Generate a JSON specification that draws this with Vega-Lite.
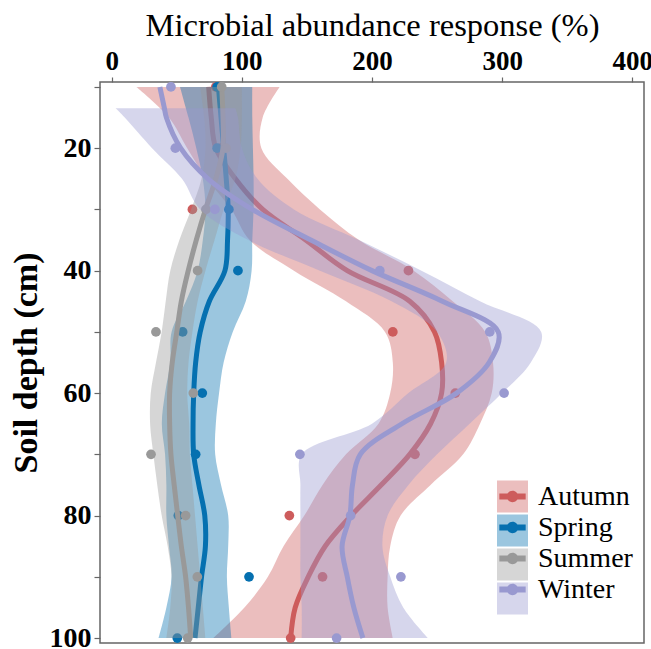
{
"$schema": "https://vega.github.io/schema/vega-lite/v6.json",
"width": 544, "height": 561,
"autosize": {"type": "none"},
"padding": {"left": 100, "top": 82, "right": 7, "bottom": 6},
"background": "white",
"config": {
 "view": {"stroke": "#666666", "strokeWidth": 1.5},
 "axis": {"labelFont": "Liberation Serif", "titleFont": "Liberation Serif", "labelColor": "black", "titleColor": "black", "grid": false, "domain": false, "tickColor": "#666666", "tickWidth": 1.2},
 "axisX": {"labelFontSize": 27, "labelFontWeight": "bold", "titleFontSize": 32.5, "titleFontWeight": "normal", "tickSize": 5, "labelPadding": 2, "titlePadding": 5},
 "axisY": {"labelFontSize": 28, "labelFontWeight": "bold", "titleFontSize": 34, "titleFontWeight": "bold", "tickSize": 6, "labelPadding": 3, "titlePadding": 6}
},
"datasets": {
 "pts": [
  {"season":"Autumn","depth":10,"value":80},{"season":"Autumn","depth":20,"value":84},{"season":"Autumn","depth":30,"value":62},{"season":"Autumn","depth":40,"value":228},{"season":"Autumn","depth":50,"value":216},{"season":"Autumn","depth":60,"value":264},{"season":"Autumn","depth":70,"value":233},{"season":"Autumn","depth":80,"value":136.5},{"season":"Autumn","depth":90,"value":162},{"season":"Autumn","depth":100,"value":137.5},
  {"season":"Spring","depth":10,"value":81},{"season":"Spring","depth":20,"value":81},{"season":"Spring","depth":30,"value":90},{"season":"Spring","depth":40,"value":97},{"season":"Spring","depth":50,"value":54.5},{"season":"Spring","depth":60,"value":69.6},{"season":"Spring","depth":70,"value":64.5},{"season":"Spring","depth":80,"value":51.2},{"season":"Spring","depth":90,"value":105.5},{"season":"Spring","depth":100,"value":50.4},
  {"season":"Summer","depth":10,"value":84.5},{"season":"Summer","depth":20,"value":87.8},{"season":"Summer","depth":30,"value":72.4},{"season":"Summer","depth":40,"value":66},{"season":"Summer","depth":50,"value":34},{"season":"Summer","depth":60,"value":62.7},{"season":"Summer","depth":70,"value":30.2},{"season":"Summer","depth":80,"value":56.8},{"season":"Summer","depth":90,"value":65.8},{"season":"Summer","depth":100,"value":58.4},
  {"season":"Winter","depth":10,"value":45.5},{"season":"Winter","depth":20,"value":48.9},{"season":"Winter","depth":30,"value":79.3},{"season":"Winter","depth":40,"value":206},{"season":"Winter","depth":50,"value":290.5},{"season":"Winter","depth":60,"value":301.5},{"season":"Winter","depth":70,"value":144.6},{"season":"Winter","depth":80,"value":183.6},{"season":"Winter","depth":90,"value":222.2},{"season":"Winter","depth":100,"value":172.8}
 ],
 "fits": [
  {"season":"Autumn","depth":10,"fit":74.5,"lo":19,"hi":129},
  {"season":"Autumn","depth":15,"fit":76.5,"lo":44,"hi":116},
  {"season":"Autumn","depth":20,"fit":80,"lo":58,"hi":115},
  {"season":"Autumn","depth":25,"fit":95,"lo":73,"hi":135},
  {"season":"Autumn","depth":30,"fit":116,"lo":92,"hi":160},
  {"season":"Autumn","depth":35,"fit":149,"lo":106,"hi":190},
  {"season":"Autumn","depth":40,"fit":181,"lo":140,"hi":232},
  {"season":"Autumn","depth":45,"fit":229,"lo":180,"hi":262},
  {"season":"Autumn","depth":50,"fit":248,"lo":210,"hi":287},
  {"season":"Autumn","depth":55,"fit":253.5,"lo":216,"hi":293},
  {"season":"Autumn","depth":60,"fit":253.5,"lo":214,"hi":292},
  {"season":"Autumn","depth":65,"fit":245,"lo":205,"hi":283},
  {"season":"Autumn","depth":70,"fit":229,"lo":180,"hi":270},
  {"season":"Autumn","depth":75,"fit":207,"lo":162,"hi":245},
  {"season":"Autumn","depth":80,"fit":184,"lo":148,"hi":222},
  {"season":"Autumn","depth":85,"fit":164,"lo":132,"hi":214},
  {"season":"Autumn","depth":90,"fit":151,"lo":120,"hi":212},
  {"season":"Autumn","depth":95,"fit":141,"lo":102,"hi":212},
  {"season":"Autumn","depth":100,"fit":137.5,"lo":78,"hi":216},
  {"season":"Spring","depth":10,"fit":82,"lo":52.5,"hi":108},
  {"season":"Spring","depth":15,"fit":84,"lo":59,"hi":108},
  {"season":"Spring","depth":20,"fit":86,"lo":65,"hi":108.5},
  {"season":"Spring","depth":25,"fit":88,"lo":70,"hi":109},
  {"season":"Spring","depth":30,"fit":89.5,"lo":72,"hi":109},
  {"season":"Spring","depth":35,"fit":89,"lo":70,"hi":108},
  {"season":"Spring","depth":40,"fit":87,"lo":66,"hi":107.5},
  {"season":"Spring","depth":45,"fit":75,"lo":57,"hi":103},
  {"season":"Spring","depth":50,"fit":68,"lo":46,"hi":93},
  {"season":"Spring","depth":55,"fit":64.5,"lo":45,"hi":86},
  {"season":"Spring","depth":60,"fit":63,"lo":41,"hi":82.5},
  {"season":"Spring","depth":65,"fit":62.5,"lo":38.5,"hi":80},
  {"season":"Spring","depth":70,"fit":63,"lo":41,"hi":79.5},
  {"season":"Spring","depth":75,"fit":67,"lo":42,"hi":84},
  {"season":"Spring","depth":80,"fit":71.5,"lo":42,"hi":89.5},
  {"season":"Spring","depth":85,"fit":72,"lo":44,"hi":89.5},
  {"season":"Spring","depth":90,"fit":69,"lo":46,"hi":88.5},
  {"season":"Spring","depth":95,"fit":66.5,"lo":42,"hi":90},
  {"season":"Spring","depth":100,"fit":64,"lo":36,"hi":92},
  {"season":"Summer","depth":10,"fit":84.5,"lo":68,"hi":100},
  {"season":"Summer","depth":15,"fit":85.5,"lo":71,"hi":100},
  {"season":"Summer","depth":20,"fit":85.5,"lo":72,"hi":99},
  {"season":"Summer","depth":25,"fit":80,"lo":69,"hi":95},
  {"season":"Summer","depth":30,"fit":72,"lo":61,"hi":86},
  {"season":"Summer","depth":35,"fit":65,"lo":52,"hi":79},
  {"season":"Summer","depth":40,"fit":58.8,"lo":45,"hi":72},
  {"season":"Summer","depth":45,"fit":53.5,"lo":41.5,"hi":66},
  {"season":"Summer","depth":50,"fit":50,"lo":38.4,"hi":62},
  {"season":"Summer","depth":55,"fit":46.5,"lo":34,"hi":59},
  {"season":"Summer","depth":60,"fit":44.5,"lo":30,"hi":58},
  {"season":"Summer","depth":65,"fit":44.5,"lo":29.5,"hi":59.5},
  {"season":"Summer","depth":70,"fit":45.5,"lo":32,"hi":60},
  {"season":"Summer","depth":75,"fit":48,"lo":35,"hi":62},
  {"season":"Summer","depth":80,"fit":50.7,"lo":38.4,"hi":64},
  {"season":"Summer","depth":85,"fit":53.5,"lo":43,"hi":66},
  {"season":"Summer","depth":90,"fit":56.8,"lo":46,"hi":68},
  {"season":"Summer","depth":95,"fit":59,"lo":45,"hi":70},
  {"season":"Summer","depth":100,"fit":60.7,"lo":42,"hi":72},
  {"season":"Winter","depth":10,"fit":37,"lo":null,"hi":null},
  {"season":"Winter","depth":13.5,"fit":40.5,"lo":3,"hi":95},
  {"season":"Winter","depth":15,"fit":42,"lo":10,"hi":97},
  {"season":"Winter","depth":20,"fit":53,"lo":31,"hi":100},
  {"season":"Winter","depth":25,"fit":74,"lo":54,"hi":112},
  {"season":"Winter","depth":30,"fit":108,"lo":68,"hi":140},
  {"season":"Winter","depth":35,"fit":153,"lo":105,"hi":190},
  {"season":"Winter","depth":40,"fit":200,"lo":160,"hi":238},
  {"season":"Winter","depth":45,"fit":254,"lo":215,"hi":283},
  {"season":"Winter","depth":50,"fit":297,"lo":250,"hi":330},
  {"season":"Winter","depth":55,"fit":290,"lo":257,"hi":322},
  {"season":"Winter","depth":60,"fit":265,"lo":228,"hi":300},
  {"season":"Winter","depth":65,"fit":223,"lo":200,"hi":275},
  {"season":"Winter","depth":70,"fit":191,"lo":146,"hi":250},
  {"season":"Winter","depth":75,"fit":185,"lo":145,"hi":228},
  {"season":"Winter","depth":80,"fit":183,"lo":145,"hi":212},
  {"season":"Winter","depth":85,"fit":177,"lo":145,"hi":208},
  {"season":"Winter","depth":90,"fit":181,"lo":145,"hi":214},
  {"season":"Winter","depth":95,"fit":186,"lo":146,"hi":224},
  {"season":"Winter","depth":100,"fit":193,"lo":146,"hi":243}
 ]
},
"encoding": {
 "y": {"field": "depth", "type": "quantitative", "scale": {"domain": [9.2, 100.8], "reverse": true, "nice": false, "zero": false},
  "axis": {"title": "Soil depth (cm)", "values": [10,20,30,40,50,60,70,80,90,100], "labelExpr": "datum.value % 20 == 0 ? datum.label : ''"}}
},
"layer": [
 {"data": {"name": "fits"}, "transform": [{"filter": "datum.season == 'Autumn'"}],
  "mark": {"type": "area", "orient": "horizontal", "interpolate": "catmull-rom", "opacity": 0.4},
  "encoding": {
   "x": {"field": "lo", "type": "quantitative", "scale": {"domain": [-9, 409], "nice": false, "zero": false}, "axis": {"orient": "top", "title": "Microbial abundance response (%)", "values": [0,100,200,300,400]}},
   "x2": {"field": "hi"},
   "fill": {"field": "season", "type": "nominal", "scale": {"domain": ["Autumn","Spring","Summer","Winter"], "range": ["#cd5c5c","#0570b0","#999999","#9999d0"]},
    "legend": {"orient": "none", "legendX": 397, "legendY": 399, "title": null, "padding": 0, "symbolType": "M-1,-1.03H1V1.03H-1Z", "symbolSize": 961, "symbolOpacity": 0.4, "symbolStrokeWidth": 0, "rowPadding": 1, "labelExpr": "''", "labelFont": "Liberation Serif", "labelFontSize": 28, "labelOffset": 10}}
  }},
 {"data": {"name": "fits"}, "transform": [{"filter": "datum.season == 'Autumn'"}],
  "mark": {"type": "line", "interpolate": "catmull-rom", "strokeWidth": 5},
  "encoding": {
   "x": {"field": "fit", "type": "quantitative", "scale": {"domain": [-9, 409], "nice": false, "zero": false}, "axis": {"orient": "top", "title": "Microbial abundance response (%)", "values": [0,100,200,300,400]}},
   "order": {"field": "depth", "type": "quantitative"},
   "stroke": {"field": "season", "type": "nominal", "scale": {"range": ["#cd5c5c","#0570b0","#999999","#9999d0"]},
    "legend": {"orient": "none", "legendX": 397, "legendY": 399, "title": null, "padding": 0, "symbolType": "M-0.85,-0.2H0.85V0.2H-0.85Z M-0.37,0A0.37,0.37 0 1,1 0.37,0A0.37,0.37 0 1,1 -0.37,0Z", "symbolSize": 961, "symbolStrokeWidth": 0, "rowPadding": 1, "labelFont": "Liberation Serif", "labelFontSize": 28, "labelColor": "black", "labelOffset": 10,
     "encode": {"symbols": {"update": {"fill": {"scale": "stroke", "field": "value"}, "opacity": {"value": 1}}}}}}
  }},
 {"data": {"name": "pts"}, "transform": [{"filter": "datum.season == 'Autumn'"}],
  "mark": {"type": "circle", "size": 95, "opacity": 1},
  "encoding": {
   "x": {"field": "value", "type": "quantitative", "scale": {"domain": [-9, 409], "nice": false, "zero": false}, "axis": {"orient": "top", "title": "Microbial abundance response (%)", "values": [0,100,200,300,400]}},
   "color": {"field": "season", "type": "nominal", "scale": {"domain": ["Autumn","Spring","Summer","Winter"], "range": ["#cd5c5c","#0570b0","#999999","#9999d0"]}, "legend": null}
  }},

 {"data": {"name": "fits"}, "transform": [{"filter": "datum.season == 'Spring'"}],
  "mark": {"type": "area", "orient": "horizontal", "interpolate": "catmull-rom", "opacity": 0.4},
  "encoding": {
   "x": {"field": "lo", "type": "quantitative", "scale": {"domain": [-9, 409], "nice": false, "zero": false}, "axis": {"orient": "top", "title": "Microbial abundance response (%)", "values": [0,100,200,300,400]}},
   "x2": {"field": "hi"},
   "fill": {"field": "season", "type": "nominal"}
  }},
 {"data": {"name": "fits"}, "transform": [{"filter": "datum.season == 'Spring'"}],
  "mark": {"type": "line", "interpolate": "catmull-rom", "strokeWidth": 5},
  "encoding": {
   "x": {"field": "fit", "type": "quantitative", "scale": {"domain": [-9, 409], "nice": false, "zero": false}, "axis": {"orient": "top", "title": "Microbial abundance response (%)", "values": [0,100,200,300,400]}},
   "order": {"field": "depth", "type": "quantitative"},
   "stroke": {"field": "season", "type": "nominal"}
  }},
 {"data": {"name": "pts"}, "transform": [{"filter": "datum.season == 'Spring'"}],
  "mark": {"type": "circle", "size": 95, "opacity": 1},
  "encoding": {
   "x": {"field": "value", "type": "quantitative", "scale": {"domain": [-9, 409], "nice": false, "zero": false}, "axis": {"orient": "top", "title": "Microbial abundance response (%)", "values": [0,100,200,300,400]}},
   "color": {"field": "season", "type": "nominal", "legend": null}
  }},

 {"data": {"name": "fits"}, "transform": [{"filter": "datum.season == 'Summer'"}],
  "mark": {"type": "area", "orient": "horizontal", "interpolate": "catmull-rom", "opacity": 0.4},
  "encoding": {
   "x": {"field": "lo", "type": "quantitative", "scale": {"domain": [-9, 409], "nice": false, "zero": false}, "axis": {"orient": "top", "title": "Microbial abundance response (%)", "values": [0,100,200,300,400]}},
   "x2": {"field": "hi"},
   "fill": {"field": "season", "type": "nominal"}
  }},
 {"data": {"name": "fits"}, "transform": [{"filter": "datum.season == 'Summer'"}],
  "mark": {"type": "line", "interpolate": "catmull-rom", "strokeWidth": 5},
  "encoding": {
   "x": {"field": "fit", "type": "quantitative", "scale": {"domain": [-9, 409], "nice": false, "zero": false}, "axis": {"orient": "top", "title": "Microbial abundance response (%)", "values": [0,100,200,300,400]}},
   "order": {"field": "depth", "type": "quantitative"},
   "stroke": {"field": "season", "type": "nominal"}
  }},
 {"data": {"name": "pts"}, "transform": [{"filter": "datum.season == 'Summer'"}],
  "mark": {"type": "circle", "size": 95, "opacity": 1},
  "encoding": {
   "x": {"field": "value", "type": "quantitative", "scale": {"domain": [-9, 409], "nice": false, "zero": false}, "axis": {"orient": "top", "title": "Microbial abundance response (%)", "values": [0,100,200,300,400]}},
   "color": {"field": "season", "type": "nominal", "legend": null}
  }},

 {"data": {"name": "fits"}, "transform": [{"filter": "datum.season == 'Winter'"}],
  "mark": {"type": "area", "orient": "horizontal", "interpolate": "catmull-rom", "opacity": 0.4},
  "encoding": {
   "x": {"field": "lo", "type": "quantitative", "scale": {"domain": [-9, 409], "nice": false, "zero": false}, "axis": {"orient": "top", "title": "Microbial abundance response (%)", "values": [0,100,200,300,400]}},
   "x2": {"field": "hi"},
   "fill": {"field": "season", "type": "nominal"}
  }},
 {"data": {"name": "fits"}, "transform": [{"filter": "datum.season == 'Winter'"}],
  "mark": {"type": "line", "interpolate": "catmull-rom", "strokeWidth": 5},
  "encoding": {
   "x": {"field": "fit", "type": "quantitative", "scale": {"domain": [-9, 409], "nice": false, "zero": false}, "axis": {"orient": "top", "title": "Microbial abundance response (%)", "values": [0,100,200,300,400]}},
   "order": {"field": "depth", "type": "quantitative"},
   "stroke": {"field": "season", "type": "nominal"}
  }},
 {"data": {"name": "pts"}, "transform": [{"filter": "datum.season == 'Winter'"}],
  "mark": {"type": "circle", "size": 95, "opacity": 1},
  "encoding": {
   "x": {"field": "value", "type": "quantitative", "scale": {"domain": [-9, 409], "nice": false, "zero": false}, "axis": {"orient": "top", "title": "Microbial abundance response (%)", "values": [0,100,200,300,400]}},
   "color": {"field": "season", "type": "nominal", "legend": null}
  }}
]
}
